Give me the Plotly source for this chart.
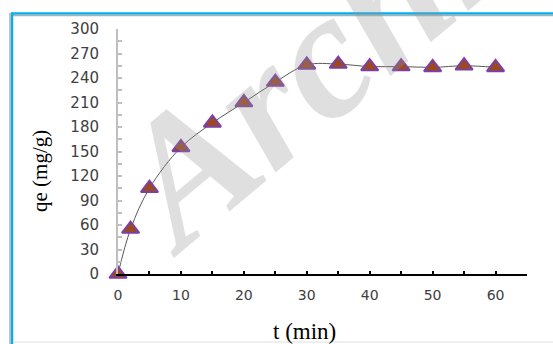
import plotly.graph_objects as go

# Data
t_min = [0, 2, 5, 10, 15, 20, 25, 30, 35, 40, 45, 50, 55, 60]
qe_mg_g = [0, 55, 105, 155, 185, 210, 235, 256, 257, 254, 254, 253, 255, 253]
x_ticks = [0, 10, 20, 30, 40, 50, 60]
y_ticks = [0, 30, 60, 90, 120, 150, 180, 210, 240, 270, 300]

W, H = 553, 344
def px(x):
    return x / W
def py(y):
    return 1 - y / H

fig = go.Figure()
fig.add_trace(go.Scatter(
    x=t_min, y=qe_mg_g, mode="lines+markers",
    line=dict(color="#595959", width=1, shape="spline", smoothing=1),
    marker=dict(symbol="triangle-up", size=15, color="#9C4A1C",
                line=dict(color="#7B3FA6", width=2)),
    cliponaxis=False, showlegend=False,
))

fig.update_layout(
    width=W, height=H, template="none",
    margin=dict(l=0, r=0, t=0, b=0),
    paper_bgcolor="white", plot_bgcolor="white",
    xaxis=dict(
        domain=[px(118), px(527)], range=[0, 65], automargin=False,
        tickvals=x_ticks, ticks="inside", ticklen=3, tickwidth=1.5, tickcolor="black",
        minor=dict(dtick=5, tick0=0, ticks="inside", ticklen=3, tickwidth=1.5, tickcolor="black"),
        showline=True, linecolor="black", linewidth=2, showgrid=False, zeroline=False,
        tickfont=dict(family="DejaVu Sans", size=14, color="#404040"), ticklabelstandoff=7,
    ),
    yaxis=dict(
        domain=[py(274), py(29)], range=[0, 300], automargin=False,
        tickvals=y_ticks, ticks="inside", ticklen=4, tickwidth=1.5, tickcolor="#BFBFBF",
        minor=dict(dtick=15, tick0=0, ticks="inside", ticklen=4, tickwidth=1.5, tickcolor="#BFBFBF"),
        showline=True, linecolor="#BFBFBF", linewidth=2, showgrid=False, zeroline=False,
        tickfont=dict(family="DejaVu Sans", size=15, color="#404040"), ticklabelstandoff=14,
    ),
    shapes=[
        dict(type="line", xref="paper", yref="paper", x0=px(11), x1=1, y0=py(13.5), y1=py(13.5),
             line=dict(color="#00B0F0", width=2.5)),
        dict(type="line", xref="paper", yref="paper", x0=px(11), x1=1, y0=py(15.5), y1=py(15.5),
             line=dict(color="#B0B0B0", width=1.5)),
        dict(type="line", xref="paper", yref="paper", x0=px(12), x1=px(12), y0=py(13), y1=0,
             line=dict(color="#00B0F0", width=2.5)),
        dict(type="line", xref="paper", yref="paper", x0=px(10), x1=px(10), y0=py(13), y1=0,
             line=dict(color="#B0B0B0", width=1.5)),
        dict(type="line", xref="paper", yref="paper", x0=px(13), x1=1, y0=py(342), y1=py(342),
             line=dict(color="#E0E0E0", width=1)),
    ],
    annotations=[
        dict(text="qe (mg/g)", xref="paper", yref="paper",
             x=px(40), y=py(171), xanchor="center", yanchor="middle", showarrow=False,
             textangle=-90,
             font=dict(family="Liberation Serif", size=21, color="black")),
        dict(text="t (min)", xref="paper", yref="paper",
             x=px(304), y=py(331), xanchor="center", yanchor="middle", showarrow=False,
             font=dict(family="Liberation Serif", size=23, color="black")),
        dict(text="<b><i>Archive</i></b>", xref="paper", yref="paper",
             x=px(360), y=py(22), xanchor="center", yanchor="middle", showarrow=False,
             textangle=-40,
             font=dict(family="Liberation Serif", size=180, color="rgba(150,150,150,0.3)")),
    ],
)

fig.write_html("out.html")
